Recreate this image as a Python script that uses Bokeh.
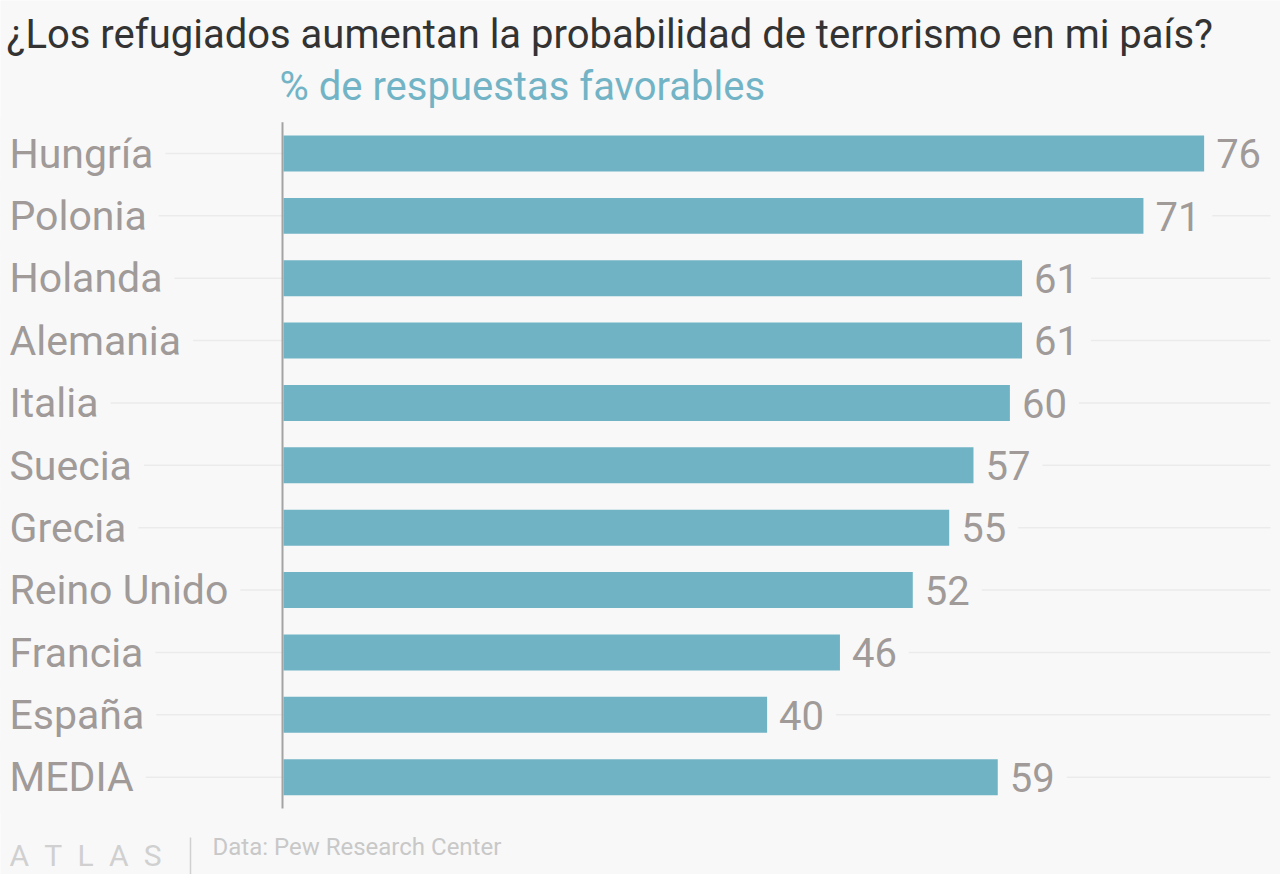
import numpy as np
from bokeh.plotting import figure
from bokeh.models import Range1d, ColumnDataSource
from bokeh.core.properties import value
from bokeh.embed import file_html
from bokeh.resources import INLINE

# ---- data ----
categories = ["Hungría", "Polonia", "Holanda", "Alemania", "Italia", "Suecia",
              "Grecia", "Reino Unido", "Francia", "España", "MEDIA"]
values = [76, 71, 61, 61, 60, 57, 55, 52, 46, 40, 59]
value_labels = [str(v) for v in values]
title_text = "¿Los refugiados aumentan la probabilidad de terrorismo en mi país?"
subtitle_text = "% de respuestas favorables"
source_text = "Data: Pew Research Center"
logo_text = "A\u2002T\u2002L\u2002A\u2002S"

# ---- styling / layout ----
W, H = 1280, 874
BG = "#f8f8f8"
BAR = "#70b3c4"
LABEL = "#a09a98"
GRID = "#ebebeb"
FONT = value("Roboto")
SHIFT = 0.36      # empirical baseline correction (fraction of font size)
PAD = 12

n = len(categories)
ypos = np.arange(n)[::-1].astype(float)

PX_X = 12.14      # pixels per percentage point
X0 = 283          # pixel position of zero
PX_Y = 62.37      # pixels per category band
Y_TOP = 153       # pixel position of first category centre

x_start = -X0 / PX_X
x_end = (W - X0) / PX_X
y_end = (n - 1) + Y_TOP / PX_Y
y_start = y_end - H / PX_Y


def px_x(px):
    return x_start + px / PX_X


def px_y(py, size=0):
    return y_end - (py - SHIFT * size) / PX_Y


p = figure(width=W, height=H,
           x_range=Range1d(x_start, x_end), y_range=Range1d(y_start, y_end),
           output_backend="svg", toolbar_location=None,
           x_axis_location=None, y_axis_location=None,
           min_border=0, background_fill_color=BG, border_fill_color=BG,
           outline_line_color=None)
p.grid.visible = False

LAB_SIZE = 41
src = ColumnDataSource(dict(cat=categories, val=values, lab=value_labels,
                            y=ypos,
                            ytxt=ypos - (15 - SHIFT * LAB_SIZE) / PX_Y))

# gridlines
p.segment(x0=px_x(0), y0="y", x1=px_x(1270), y1="y", source=src,
          line_color=GRID, line_width=1.5)

# bars
p.hbar(y="y", left=0, right="val", height=0.577, source=src,
       fill_color=BAR, line_color=None)

# vertical axis line
p.segment(x0=[-1 / PX_X], y0=[-0.5], x1=[-1 / PX_X], y1=[n - 0.5],
          line_color="#a3a3a3", line_width=2)

# category labels
p.text(x=px_x(9), y="ytxt", text="cat", source=src, x_offset=-PAD,
       text_font=FONT, text_font_size=f"{LAB_SIZE}px", text_color=LABEL,
       text_baseline="alphabetic", text_align="left",
       background_fill_color=BG, padding=PAD)

# value labels
p.text(x="val", y="ytxt", text="lab", source=src, x_offset=12 - 2 - PAD,
       text_font=FONT, text_font_size="40px", text_color=LABEL,
       text_baseline="alphabetic", text_align="left",
       background_fill_color=BG, padding=PAD)

# title and subtitle
p.text(x=[px_x(6)], y=[px_y(48, 40)], text=[title_text], text_font=FONT,
       text_font_size="40px", text_color="#333333", text_baseline="alphabetic")
p.text(x=[px_x(279)], y=[px_y(100, 40)], text=[subtitle_text], text_font=FONT,
       text_font_size="40px", text_color="#72b4c6", text_baseline="alphabetic")

# footer
p.text(x=[px_x(9)], y=[px_y(866, 31)], text=[logo_text], text_font=FONT,
       text_font_size="30px", text_color="#d0d0d0", text_baseline="alphabetic")
p.segment(x0=[px_x(190)], y0=[px_y(837)], x1=[px_x(190)], y1=[px_y(874)],
          line_color="#d0d0d0", line_width=1.5)
p.text(x=[px_x(212)], y=[px_y(855, 24)], text=[source_text], text_font=FONT,
       text_font_size="24px", text_color="#c8c8c8", text_baseline="alphabetic")

open("out.html", "w").write(file_html(p, INLINE))
